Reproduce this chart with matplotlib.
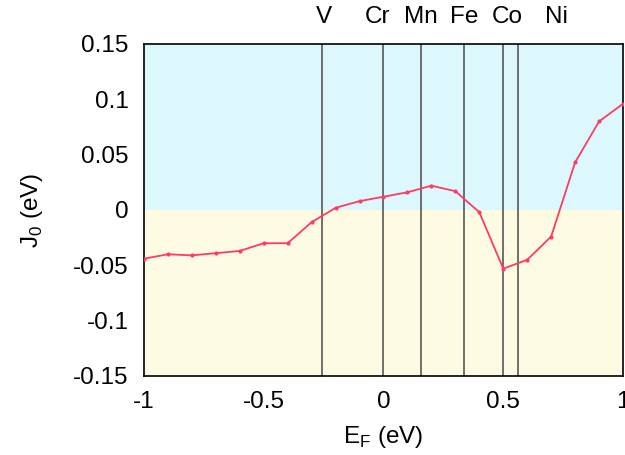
import matplotlib
matplotlib.use("Agg")
import matplotlib.pyplot as plt
import matplotlib.transforms as mtransforms

plt.rcParams['font.family'] = ['Liberation Sans', 'DejaVu Sans']

# Data
ef = [-1.0, -0.9, -0.8, -0.7, -0.6, -0.5, -0.4, -0.3, -0.2, -0.1, 0.0,
      0.1, 0.2, 0.3, 0.4, 0.5, 0.6, 0.7, 0.8, 0.9, 1.0]
j0 = [-0.044, -0.040, -0.041, -0.039, -0.037, -0.030, -0.030, -0.011, 0.002, 0.008, 0.012,
      0.016, 0.022, 0.017, -0.002, -0.053, -0.045, -0.024, 0.043, 0.080, 0.096]

element_lines = [-0.258, 0.0, 0.158, 0.338, 0.5, 0.5625]
element_names = ["V", "Cr", "Mn", "Fe", "Co", "Ni"]
element_label_x = [-0.25, -0.025, 0.158, 0.338, 0.517, 0.72]

xticks = [-1, -0.5, 0, 0.5, 1]
xticklabels = ["-1", "-0.5", "0", "0.5", "1"]
yticks = [0.15, 0.1, 0.05, 0, -0.05, -0.1, -0.15]
yticklabels = ["0.15", "0.1", "0.05", "0", "-0.05", "-0.1", "-0.15"]

FS = 17.5

fig = plt.figure(figsize=(6.25, 4.55), dpi=100)
ax = fig.add_axes([144/625, 1-376/455, (623-144)/625, (376-44)/455])

ax.axhspan(0, 0.15, color="#ddf8fc", zorder=0, lw=0)
ax.axhspan(-0.15, 0, color="#fdfce3", zorder=0, lw=0)

for xv in element_lines:
    ax.axvline(xv, color="#4a4a4a", lw=1.1, zorder=1)

ax.plot(ef, j0, color="#ff3b64", lw=1.3, marker='.', markersize=4, zorder=3)

ax.set_xlim(-1, 1)
ax.set_ylim(-0.15, 0.15)
ax.set_xticks(xticks)
ax.set_xticklabels(xticklabels)
ax.set_yticks(yticks)
ax.set_yticklabels(yticklabels)
ax.tick_params(axis='both', length=0, labelsize=FS)
ax.tick_params(axis='y', pad=11)
ax.tick_params(axis='x', pad=11)

for s in ax.spines.values():
    s.set_linewidth(1.2)
    s.set_color("black")

trans = mtransforms.blended_transform_factory(ax.transData, ax.transAxes)
for name, xv in zip(element_names, element_label_x):
    ax.text(xv, 1.082, name, transform=trans, ha='center', va='center', fontsize=FS)

ax.set_xlabel("E$_\\mathregular{F}$ (eV)", fontsize=FS, labelpad=8)
ax.set_ylabel("J$_\\mathregular{0}$ (eV)", fontsize=FS, labelpad=20)

fig.savefig("out.png", dpi=100, facecolor="white")
